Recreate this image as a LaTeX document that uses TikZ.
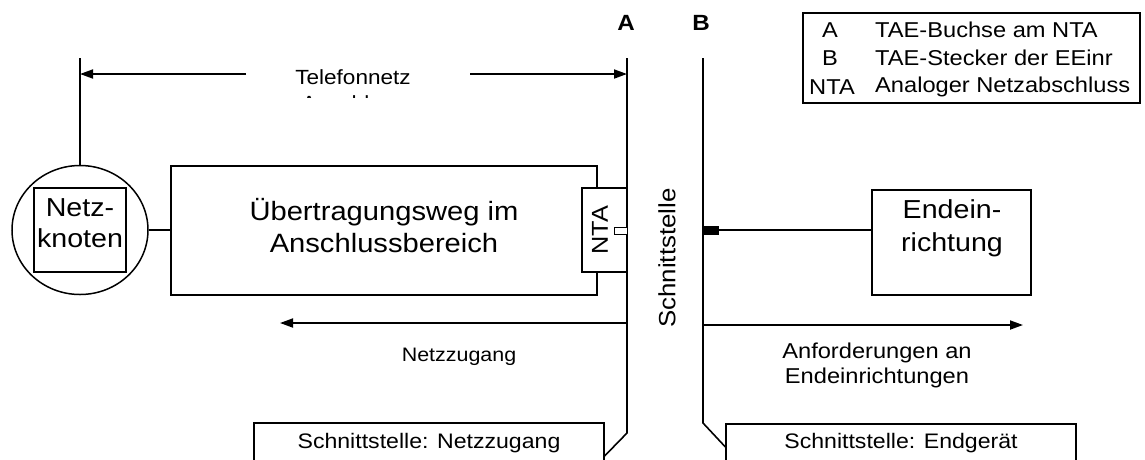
\documentclass[tikz,border=0pt]{standalone}
\usepackage{fontspec}
\setmainfont{Liberation Sans}[FakeStretch=1.1]
\usetikzlibrary{arrows.meta,shapes.geometric}
\begin{document}
\begin{tikzpicture}[x=1pt,y=-1pt,
  box/.style={draw, line width=1.2pt, fill=white, inner sep=0pt},
  wire/.style={line width=1.6pt},
  arr/.style={line width=1.8pt, -{Triangle[length=13pt,width=9pt]}},
  fs/.style={font=\fontsize{#1}{25}\selectfont},
  lbl/.style={inner sep=0pt, align=center},
]
\clip (0,0) rectangle (1145,459);
\fill[white] (0,0) rectangle (1145,459);

% Lines A and B (coordinates)
\coordinate (Atop) at (627,58);
\coordinate (Abot) at (627,433);
\coordinate (Btop) at (703,58);
\coordinate (Bbot) at (703,423);

% bottom boxes
\node[box, minimum width=350pt, minimum height=60pt] (snz) at (429,453) {};
\node[lbl, fs=21] (snztext) at (429,443) {Schnittstelle: Netzzugang};
\node[box, minimum width=350pt, minimum height=60pt] (seg) at (901,454) {};
\node[lbl, fs=21] (segtext) at (901,443) {Schnittstelle: Endgerät};

\draw[wire] (Atop) -- (Abot) -- (snz.north east |- 0,456);
\draw[wire] (Btop) -- (Bbot) -- (seg.north west |- 0,447);

% Netzknoten
\node[ellipse, draw, line width=1.5pt, minimum width=136pt, minimum height=129pt, inner sep=0pt] (circ) at (80,230) {};
\node[box, minimum width=92pt, minimum height=84pt] (nkbox) at (80,230) {};
\node[lbl, font=\fontsize{26}{31}\selectfont] (nktext) at (80,223) {Netz-\\knoten};
\coordinate (ctop) at (80,58);
\draw[wire] (ctop) -- (circ.north);

% Uebertragungsweg
\node[box, minimum width=426pt, minimum height=129pt] (big) at (384,230.5) {};
\node[lbl, font=\fontsize{26.5}{32}\selectfont] (bigtext) at (384,226) {Übertragungsweg im\\Anschlussbereich};
\draw[line width=1.2pt] (circ.east) -- (circ.east -| big.west);

% NTA
\node[box, minimum width=45pt, minimum height=84pt] (nta) at (604.5,230) {};
\node[lbl, rotate=90, font=\fontsize{23}{26}\selectfont] (ntatext) at (600,230) {NTA};
\node[box, line width=1pt, minimum width=13pt, minimum height=7pt] (stecker) at (620.5,230.5) {};
\draw[wire] (nta.north east) -- (nta.south east);

% A / B labels
\node[font=\bfseries\fontsize{22}{24}\selectfont, inner sep=0pt] (Alab) at (626,23) {A};
\node[font=\bfseries\fontsize{22}{24}\selectfont, inner sep=0pt] (Blab) at (701,23) {B};

% Telefonnetz arrows
\node[lbl, fs=20.5] (tel) at (353,77) {Telefonnetz};
\begin{scope}
  \clip (250,60) rectangle (470,97);
  \node[lbl, fs=20.5] (ansch) at (353,103) {Anschluss};
\end{scope}
\coordinate (tl1) at (246,74);
\coordinate (tr1) at (470,74);
\draw[arr] (tl1) -- (tl1 -| ctop);
\draw[arr] (tr1) -- (tr1 -| Atop);

% Schnittstelle vertical
\node[lbl, rotate=90, fs=23.5] (sst) at (667,258) {Schnittstelle};

% Endeinrichtung
\node[box, minimum width=159pt, minimum height=105pt] (ee) at (951.5,242.5) {};
\node[lbl, font=\fontsize{26}{33}\selectfont] (eetext) at (952,228) {Endein-\\richtung};
\node[draw, fill=black, line width=0.6pt, minimum width=15pt, minimum height=8pt, inner sep=0pt] (plug) at (711,230) {};
\draw[line width=1.2pt] (plug.east) -- (plug.east -| ee.west);

% bottom arrows
\coordinate (nzstart) at (627,323);
\coordinate (nzend) at (280,323);
\draw[arr] (nzstart) -- (nzend);
\node[lbl, fs=19.5] (nz) at (459,357) {Netzzugang};
\coordinate (anstart) at (703,325);
\coordinate (anend) at (1023,325);
\draw[arr] (anstart) -- (anend);
\node[lbl, fs=21.5] (anf) at (877,365) {Anforderungen an\\Endeinrichtungen};

% Legend
\node[draw, line width=1.2pt, minimum width=337pt, minimum height=90pt, inner sep=0pt] (leg) at (971.5,58) {};
\node[inner sep=0pt, fs=21.5] (la) at (830,30) {A};
\node[inner sep=0pt, fs=21.5] (lb) at (830,58) {B};
\node[inner sep=0pt, fs=21.5] (ln) at (832,87) {NTA};
\node[inner sep=0pt, fs=21.5, anchor=west] (ta) at (875,30) {TAE-Buchse am NTA};
\node[inner sep=0pt, fs=21.5, anchor=west] (tb) at (875,58) {TAE-Stecker der EEinr};
\node[inner sep=0pt, fs=21.5, anchor=west] (tn) at (875,87) {Analoger Netzabschluss};
\end{tikzpicture}
\end{document}
